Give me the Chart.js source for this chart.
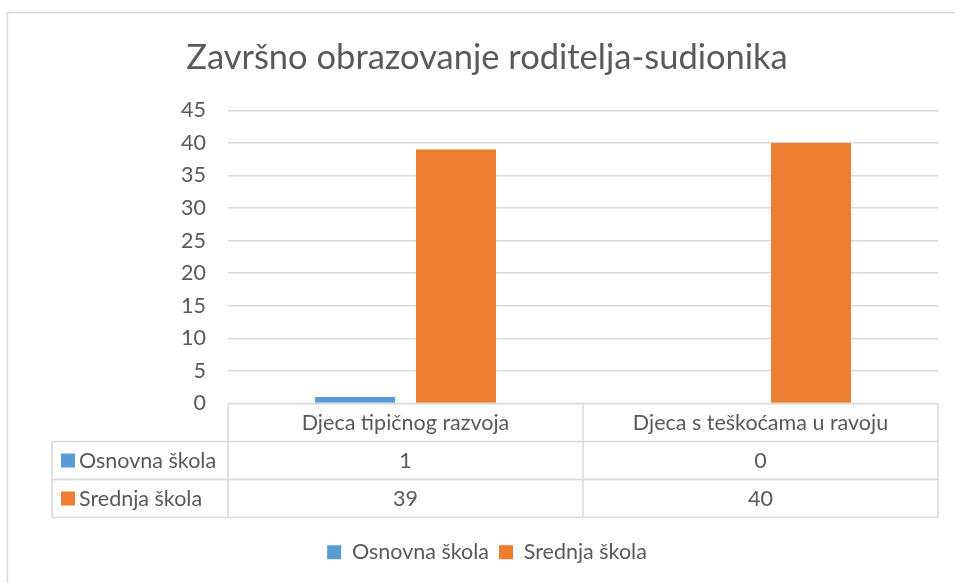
<!DOCTYPE html>
<html>
<head>
<meta charset="utf-8">
<script src="https://cdn.jsdelivr.net/npm/chart.js@4/dist/chart.umd.min.js"></script>
<style>
  html, body { margin: 0; padding: 0; background: #fff; }
  #wrap { width: 955px; height: 583px; }
</style>
</head>
<body>
<div id="wrap"><canvas id="chart" width="955" height="583"></canvas></div>
<script>
const categories = ["Djeca tipičnog razvoja", "Djeca s teškoćama u ravoju"];
const seriesNames = ["Osnovna škola", "Srednja škola"];
const osnovnaSkola = [1, 0];
const srednjaSkola = [39, 40];
const colors = ["#5B9BD5", "#ED7D31"];
const yMax = 45;
const yStep = 5;

const FONT = "Lato, 'Liberation Sans', sans-serif";
const TEXT = "#595959";
const LINE = "#D9D9D9";
const ROW_H = 38;
const FS = 21.5;

// frame round the whole chart, like the Excel chart border
const framePlugin = {
  id: "frame",
  beforeDraw(chart) {
    const ctx = chart.ctx;
    ctx.save();
    ctx.strokeStyle = LINE;
    ctx.lineWidth = 1.5;
    ctx.beginPath();
    ctx.moveTo(7.5, chart.height + 2);
    ctx.lineTo(7.5, 12.5);
    ctx.lineTo(chart.width + 2, 12.5);
    ctx.stroke();
    ctx.restore();
  }
};

// data table under the plot
const tablePlugin = {
  id: "dataTable",
  afterDraw(chart) {
    const ctx = chart.ctx;
    const area = chart.chartArea;
    const x = chart.scales.x;
    const top = area.bottom;
    const left = 52;
    const n = categories.length;
    const colW = (area.right - area.left) / n;

    ctx.save();
    ctx.strokeStyle = LINE;
    ctx.lineWidth = 1.5;

    // horizontal lines
    ctx.beginPath();
    ctx.moveTo(area.left, top);
    ctx.lineTo(area.right, top);
    for (let r = 1; r <= 3; r++) {
      ctx.moveTo(left, top + r * ROW_H);
      ctx.lineTo(area.right, top + r * ROW_H);
    }
    // vertical lines
    ctx.moveTo(left, top + ROW_H);
    ctx.lineTo(left, top + 3 * ROW_H);
    for (let c = 0; c <= n; c++) {
      const px = area.left + c * colW;
      ctx.moveTo(px, top);
      ctx.lineTo(px, top + 3 * ROW_H);
    }
    ctx.stroke();

    ctx.fillStyle = TEXT;
    ctx.font = FS + "px " + FONT;
    ctx.textAlign = "center";
    ctx.textBaseline = "middle";
    categories.forEach((cat, i) => {
      const cx = x.getPixelForValue(i);
      ctx.fillText(cat, cx, top + ROW_H / 2 + 1);
    });

    chart.data.datasets.forEach((ds, r) => {
      const cy = top + (r + 1.5) * ROW_H + 1;
      ds.data.forEach((v, i) => {
        ctx.textAlign = "center";
        ctx.fillStyle = TEXT;
        ctx.fillText(String(v), x.getPixelForValue(i), cy);
      });
      ctx.fillStyle = ds.backgroundColor;
      ctx.fillRect(left + 9, cy - 8, 14, 14);
      ctx.fillStyle = TEXT;
      ctx.textAlign = "left";
      ctx.fillText(ds.label, left + 27, cy);
    });
    ctx.restore();
  }
};

new Chart(document.getElementById("chart"), {
  type: "bar",
  data: {
    labels: categories,
    datasets: [
      { label: seriesNames[0], data: osnovnaSkola, backgroundColor: colors[0] },
      { label: seriesNames[1], data: srednjaSkola, backgroundColor: colors[1] }
    ]
  },
  options: {
    responsive: false,
    animation: false,
    events: [],
    // left padding only moves the title/legend centre; the plot still starts at x=228
    layout: { padding: { left: 36, right: 17, top: 0, bottom: 10 } },
    datasets: {
      bar: { barPercentage: 0.792, categoryPercentage: 0.569 }
    },
    plugins: {
      title: {
        display: true,
        text: "Završno obrazovanje roditelja-sudionika",
        color: TEXT,
        font: { family: FONT, size: 34.5, weight: "normal" },
        padding: { top: 37, bottom: 32 }
      },
      legend: {
        position: "bottom",
        labels: {
          color: TEXT,
          boxWidth: 14,
          boxHeight: 14,
          padding: 10,
          font: { family: FONT, size: FS }
        }
      },
      tooltip: { enabled: false }
    },
    scales: {
      x: {
        grid: { display: false },
        border: { display: false },
        ticks: { display: false },
        afterFit(scale) { scale.height = 3 * ROW_H + 14; }
      },
      y: {
        min: 0,
        max: yMax,
        grid: { color: LINE, lineWidth: 1.5, drawTicks: false },
        border: { display: false },
        ticks: {
          stepSize: yStep,
          padding: 22,
          color: TEXT,
          font: { family: FONT, size: FS }
        },
        afterFit(scale) { scale.width = 192; }
      }
    }
  },
  plugins: [framePlugin, tablePlugin]
});
</script>
</body>
</html>
